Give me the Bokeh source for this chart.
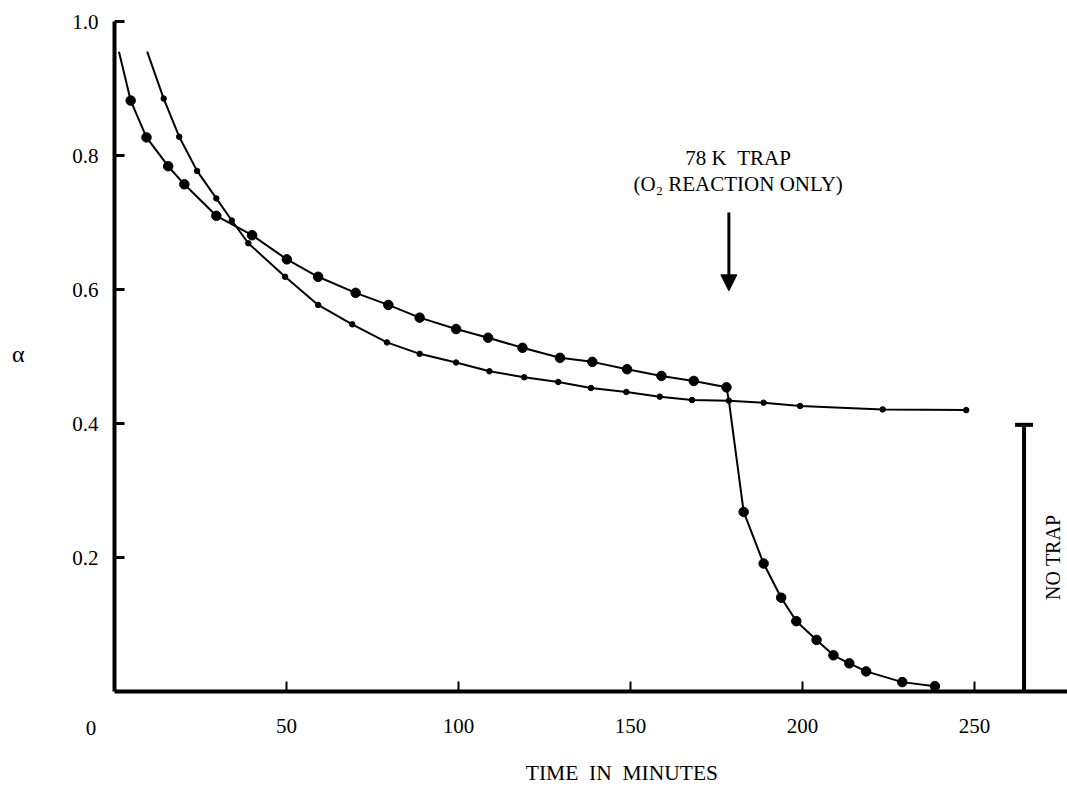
from bokeh.plotting import figure
from bokeh.models import Range1d, Label, Arrow, NormalHead, FixedTicker
from bokeh.embed import file_html
from bokeh.resources import INLINE

# ---- data (time in minutes, alpha) ----
# 78 K trap (O2 reaction only) - large dots
trap_t = [1.3, 4.7, 9.3, 15.6, 20.3, 29.6, 40.0, 50.1, 59.2, 70.1, 79.6, 88.7,
          99.3, 108.6, 118.6, 129.5, 138.9, 149.0, 159.0, 168.4, 177.9, 178.6,
          182.9, 188.7, 193.8, 198.2, 204.1, 209.0, 213.6, 218.5, 229.0, 238.5]
trap_a = [0.955, 0.882, 0.827, 0.784, 0.757, 0.710, 0.681, 0.645, 0.619, 0.595,
          0.577, 0.558, 0.541, 0.528, 0.513, 0.498, 0.492, 0.481, 0.471, 0.4635,
          0.454, 0.434, 0.268, 0.191, 0.140, 0.105, 0.077, 0.054, 0.042, 0.030,
          0.014, 0.008]
trap_unmarked = [0, 21]

# no trap - small dots
notrap_t = [9.5, 14.3, 18.8, 24.0, 29.6, 34.1, 38.9, 49.6, 59.2, 69.1, 79.2,
            88.7, 99.3, 109.0, 119.1, 129.0, 138.5, 148.8, 158.5, 167.9, 178.6,
            188.7, 199.3, 223.3, 247.6]
notrap_a = [0.955, 0.885, 0.828, 0.777, 0.736, 0.703, 0.669, 0.619, 0.577,
            0.548, 0.521, 0.504, 0.491, 0.478, 0.469, 0.462, 0.453, 0.447,
            0.440, 0.435, 0.434, 0.431, 0.426, 0.421, 0.420]
notrap_unmarked = [0]

# "NO TRAP" end-value bar
bar_t = 264.4
bar_top = 0.398

# trap switch arrow
arrow_t = 178.6
arrow_from = 0.715
arrow_to = 0.598

x_ticks = [50, 100, 150, 200, 250]
y_ticks = [0.2, 0.4, 0.6, 0.8, 1.0]
y_tick_labels = ["0.2", "0.4", "0.6", "0.8", "1.0"]

FONT = "Liberation Serif"
NB = "\u00a0"

# layout: axis origin at pixel (114, 691); 3.44 px per minute, 670 px per unit alpha
W, H = 1067, 797
X0, Y0, SX, SY = 114.0, 691.0, 3.44, 670.0
x_lo, x_hi = -X0 / SX, (W - X0) / SX
y_hi, y_lo = Y0 / SY, -(H - Y0) / SY

p = figure(width=W, height=H, output_backend="svg", toolbar_location=None,
           x_range=Range1d(x_lo, x_hi), y_range=Range1d(y_lo, y_hi),
           min_border=0)
p.outline_line_color = None
p.xgrid.visible = False
p.ygrid.visible = False
p.background_fill_color = "white"
p.border_fill_color = "white"

for ax in (p.xaxis[0], p.yaxis[0]):
    ax.fixed_location = 0
    ax.axis_line_width = 4
    ax.axis_line_color = "black"
    ax.major_tick_in = 10
    ax.major_tick_out = 0
    ax.minor_tick_line_color = None
    ax.major_label_text_font = FONT
    ax.major_label_text_font_size = "21px"
    ax.major_label_text_color = "black"

p.xaxis[0].bounds = (0, x_hi)
p.xaxis[0].ticker = FixedTicker(ticks=x_ticks)
p.xaxis[0].major_tick_line_width = 2
p.xaxis[0].major_label_standoff = 27
p.yaxis[0].bounds = (0, 1.0)
p.yaxis[0].ticker = FixedTicker(ticks=y_ticks)
p.yaxis[0].major_tick_line_width = 3
p.yaxis[0].major_label_standoff = 16
p.yaxis[0].major_label_overrides = {t: s for t, s in zip(y_ticks, y_tick_labels)}

# curves
p.line(trap_t, trap_a, line_color="black", line_width=2)
p.line(notrap_t, notrap_a, line_color="black", line_width=2)

tm_t = [t for i, t in enumerate(trap_t) if i not in trap_unmarked]
tm_a = [a for i, a in enumerate(trap_a) if i not in trap_unmarked]
p.scatter(tm_t, tm_a, size=9.5, color="black")
nm_t = [t for i, t in enumerate(notrap_t) if i not in notrap_unmarked]
nm_a = [a for i, a in enumerate(notrap_a) if i not in notrap_unmarked]
p.scatter(nm_t, nm_a, size=5.5, color="black")

# NO TRAP bar
p.segment(x0=[bar_t], y0=[0], x1=[bar_t], y1=[bar_top], line_color="black", line_width=4)
p.segment(x0=[bar_t - 2.6], y0=[bar_top], x1=[bar_t + 2.6], y1=[bar_top],
          line_color="black", line_width=4)
p.add_layout(Label(x=272.8, y=0.20, text="NO" + NB + "TRAP", angle=1.5708,
                   angle_units="rad", text_align="center", text_baseline="middle",
                   text_font=FONT, text_font_size="20px", text_color="black"))

# arrow and annotation
p.add_layout(Arrow(end=NormalHead(size=16, fill_color="black", line_color="black"),
                   x_start=arrow_t, y_start=arrow_from, x_end=arrow_t, y_end=arrow_to,
                   line_width=3, line_color="black"))
p.add_layout(Label(x=181.3, y=0.797, text="78 K" + NB + NB + "TRAP", text_align="center",
                   text_baseline="middle", text_font=FONT, text_font_size="21px",
                   text_color="black"))
p.add_layout(Label(x=181.3, y=0.758, text="(O\u2082 REACTION ONLY)", text_align="center",
                   text_baseline="middle", text_font=FONT, text_font_size="21px",
                   text_color="black"))

# axis texts
p.add_layout(Label(x=-6.8, y=-0.055, text="0", text_align="center",
                   text_baseline="middle", text_font=FONT, text_font_size="21px",
                   text_color="black"))
p.add_layout(Label(x=147.5, y=-0.122, text="TIME" + NB + NB + "IN" + NB + NB + "MINUTES",
                   text_align="center", text_baseline="middle", text_font=FONT,
                   text_font_size="21.5px", text_color="black"))
p.add_layout(Label(x=-28.0, y=0.503, text="\u03b1", text_align="center",
                   text_baseline="middle", text_font=FONT, text_font_size="24px",
                   text_color="black"))

open("out.html", "w").write(file_html(p, INLINE))
